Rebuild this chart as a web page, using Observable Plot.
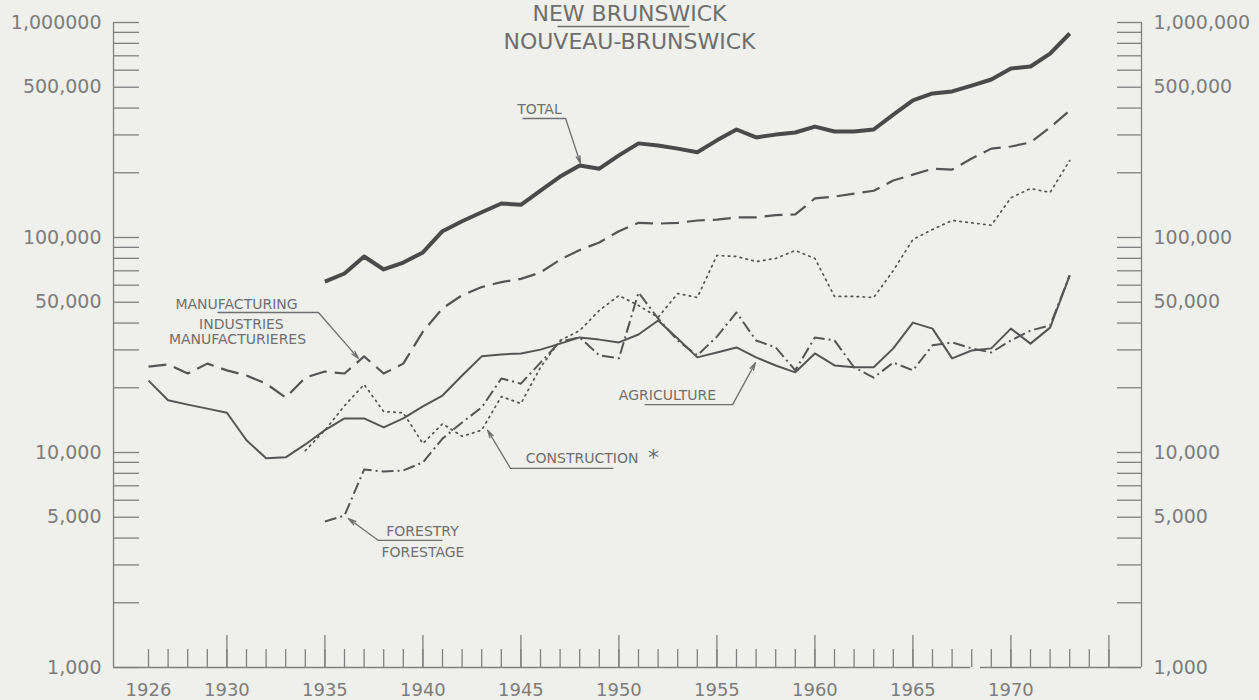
<!DOCTYPE html>
<html><head><meta charset="utf-8">
<script src="https://cdn.jsdelivr.net/npm/d3@7"></script>
<script src="https://cdn.jsdelivr.net/npm/@observablehq/plot@0.6"></script>
<style>
html,body{margin:0;padding:0;background:#efefec;}
#chart{width:1259px;height:700px;}
</style></head><body><div id="chart"></div>
<script>
// ---------- data ----------
const totalStart = 1935;
const total = [62400,68000,81600,71000,76500,85200,107000,119000,131000,144000,142000,165000,192000,216000,209000,241000,274000,268000,259000,249000,283000,318000,292000,301000,308000,328000,311000,311000,318000,373000,434000,468000,478000,509000,543000,611000,624000,717000,889000];

const manufacturingStart = 1926;
const manufacturing = [25100,25700,23300,25900,24100,22800,20900,18000,22300,23800,23300,28000,23300,25900,36500,46800,53900,58800,62000,64200,68800,78900,87500,94800,107000,117000,116000,117000,120000,121000,124000,124000,127000,128000,152000,155000,160000,165000,184000,196000,209000,207000,233000,259000,265000,277000,325000,390000];

const agricultureStart = 1926;
const agriculture = [21600,17500,16700,16000,15300,11400,9400,9500,10900,12700,14400,14400,13100,14400,16400,18400,22800,28000,28600,28900,30100,32100,34300,33500,32500,35400,41100,33900,27700,29200,30800,27700,25400,23600,28900,25400,24900,24900,30500,40200,37700,27400,29800,30500,37700,32100,38100,66600];

const forestryStart = 1935;
const forestry = [4780,5090,8330,8160,8250,9000,11600,13800,16200,22100,20900,26200,32800,34300,28300,27400,55500,42000,33200,28300,34600,44800,33200,30800,24100,34300,33200,24900,22300,26200,24100,31500,32500,30500,29200,33200,36900,39000,66600];

const constructionStart = 1934;
const construction = [10200,12700,16500,20700,15500,15300,11000,13600,11900,12700,18200,16900,24900,33200,36900,45800,53700,48300,42500,54900,52600,82500,81600,77300,79900,87000,79900,53200,53200,52600,70200,97900,109000,120000,117000,114000,153000,169000,162000,228000];

const xLabels = [1926,1930,1935,1940,1945,1950,1955,1960,1965,1970];
const yLabelValues = [1000,5000,10000,50000,100000,500000,1000000];
const leftLabels  = ["1,000","5,000","10,000","50,000","100,000","500,000","1,000000"];
const rightLabels = ["1,000","5,000","10,000","50,000","100,000","500,000","1,000,000"];

const titleLines = ["NEW BRUNSWICK","NOUVEAU-BRUNSWICK"];

// annotations (data units)
const notes = [
  {label:"TOTAL", x:1945.95, y:393800},
  {label:"MANUFACTURING", x:1930.49, y:48800},
  {label:"INDUSTRIES", x:1930.74, y:39200},
  {label:"MANUFACTURIERES", x:1930.54, y:33400},
  {label:"AGRICULTURE", x:1952.48, y:18400},
  {label:"CONSTRUCTION", x:1948.12, y:9400},
  {label:"FORESTRY", x:1939.98, y:4310},
  {label:"FORESTAGE", x:1940.0, y:3430}
];
const star = [{label:"*", x:1951.77, y:9400}];
const underlines = [
  {x1:1945.08, x2:1947.28, y:357700},
  {x1:1929.52, x2:1934.67, y:44800},
  {x1:1951.31, x2:1955.80, y:16700},
  {x1:1944.47, x2:1949.72, y:8430},
  {x1:1937.73, x2:1941.00, y:3900},
  {x1:1946.87, x2:1953.60, y:958000}
];
const arrows = [
  {x1:1947.28, y1:357700, x2:1948.04, y2:221000},
  {x1:1934.67, y1:44800,  x2:1936.71, y2:27400},
  {x1:1955.80, y1:16700,  x2:1956.97, y2:26200},
  {x1:1944.47, y1:8430,   x2:1943.30, y2:12700},
  {x1:1937.73, y1:3900,   x2:1936.20, y2:4930}
];

// ---------- layout ----------
const W = 1259, H = 700, mL = 113, mR = 118, mT = 22, mB = 33;
const frameW = W - mL - mR, frameH = H - mT - mB;
const xDomain = [1924.214, 1976.663];
const yDomain = [1000, 1000000];
const ink = "#555";
const axisInk = "#808080";
const textInk = "#707070";

const series = [
  {name:"Construction", start:constructionStart, values:construction, width:1.7, dash:"1.5,4.5"},
  {name:"Forestry", start:forestryStart, values:forestry, width:2, dash:"12,4,2,4"},
  {name:"Agriculture", start:agricultureStart, values:agriculture, width:2, dash:null},
  {name:"Manufacturing", start:manufacturingStart, values:manufacturing, width:2.2, dash:"18,8"},
  {name:"Total", start:totalStart, values:total, width:4, dash:null}
];
const rows = s => s.values.map((v, i) => ({year: s.start + i, value: v}));

const yTicks = d3.scaleLog().domain(yDomain).ticks();
const yearTicks = d3.range(1926, 1976);
const tallYears = yearTicks.filter(y => y % 5 === 0);

const lineMarks = series.map(s => Plot.line(rows(s), {
  x: "year", y: "value", stroke: s.name === "Total" ? "#4a4a4a" : ink,
  strokeWidth: s.width, strokeDasharray: s.dash || undefined,
  strokeLinejoin: "round", strokeLinecap: s.dash && s.dash.startsWith("1.5") ? "round" : "butt"
}));

const chart = Plot.plot({
  width: W, height: H,
  marginLeft: mL, marginRight: mR, marginTop: mT, marginBottom: mB,
  style: {background: "#efefec", fontFamily: "DejaVu Sans, sans-serif", overflow: "visible"},
  x: {type: "linear", domain: xDomain, axis: null},
  y: {type: "log", domain: yDomain, axis: null},
  marks: [
    // frame
    Plot.ruleX([xDomain[0]], {stroke: axisInk, strokeWidth: 1.3}),
    Plot.ruleX([xDomain[1]], {stroke: axisInk, strokeWidth: 1.3}),
    Plot.ruleY([{x1: xDomain[0], x2: 1967.95, y: 1000}, {x1: 1968.45, x2: xDomain[1], y: 1000}], {x1: "x1", x2: "x2", y: "y", stroke: axisInk, strokeWidth: 1.3}),
    // y ticks, inward
    Plot.tickY(yTicks, {y: d => d, insetRight: frameW - 26, stroke: axisInk, strokeWidth: 1.3}),
    Plot.tickY(yTicks, {y: d => d, insetLeft: frameW - 24, stroke: axisInk, strokeWidth: 1.3}),
    // x ticks
    Plot.tickX(yearTicks, {x: d => d, insetTop: frameH - 18, stroke: axisInk, strokeWidth: 1.3}),
    Plot.tickX(tallYears, {x: d => d, insetTop: frameH - 32, stroke: axisInk, strokeWidth: 1.3}),
    // axes labels
    Plot.axisY(yLabelValues, {anchor: "left", tickSize: 0, tickPadding: 12, fontSize: 19, fill: "#7d7d7d",
      tickFormat: d => leftLabels[yLabelValues.indexOf(d)]}),
    Plot.axisY(yLabelValues, {anchor: "right", tickSize: 0, tickPadding: 12, fontSize: 19, fill: "#7d7d7d",
      tickFormat: d => rightLabels[yLabelValues.indexOf(d)]}),
    Plot.axisX(xLabels, {anchor: "bottom", tickSize: 0, tickPadding: 16, fontSize: 18, fill: "#7d7d7d",
      tickFormat: d => String(d)}),
    // series
    ...lineMarks,
    // annotations
    Plot.link(underlines, {x1: "x1", x2: "x2", y1: "y", y2: "y", stroke: textInk, strokeWidth: 1.3}),
    Plot.arrow(arrows, {x1: "x1", y1: "y1", x2: "x2", y2: "y2", stroke: textInk, strokeWidth: 1.3, headLength: 9, headAngle: 28}),
    Plot.text(notes, {x: "x", y: "y", text: "label", fontSize: 14, fill: textInk, ariaLabel: "notes"}),
    Plot.text(star, {x: "x", y: "y", text: "label", fontSize: 22, fill: textInk}),
    Plot.text([titleLines[0]], {text: d => d, frameAnchor: "top", lineAnchor: "middle", dy: -8.5, dx: 2, fontSize: 22, fill: "#6e6e6e", ariaLabel: "title1"}),
    Plot.text([titleLines[1]], {text: d => d, frameAnchor: "top", lineAnchor: "middle", dy: 19.5, dx: 2, fontSize: 22, fill: "#6e6e6e", ariaLabel: "title2"})
  ]
});
d3.select(chart).selectAll('g[aria-label="notes"] text').style("letter-spacing", "0.6px");
d3.select(chart).selectAll('g[aria-label="title2"] text').style("letter-spacing", "2px");
d3.select(chart).selectAll('g[aria-label="title1"] text').style("letter-spacing", "0.3px");
document.getElementById("chart").appendChild(chart);
</script></body></html>
